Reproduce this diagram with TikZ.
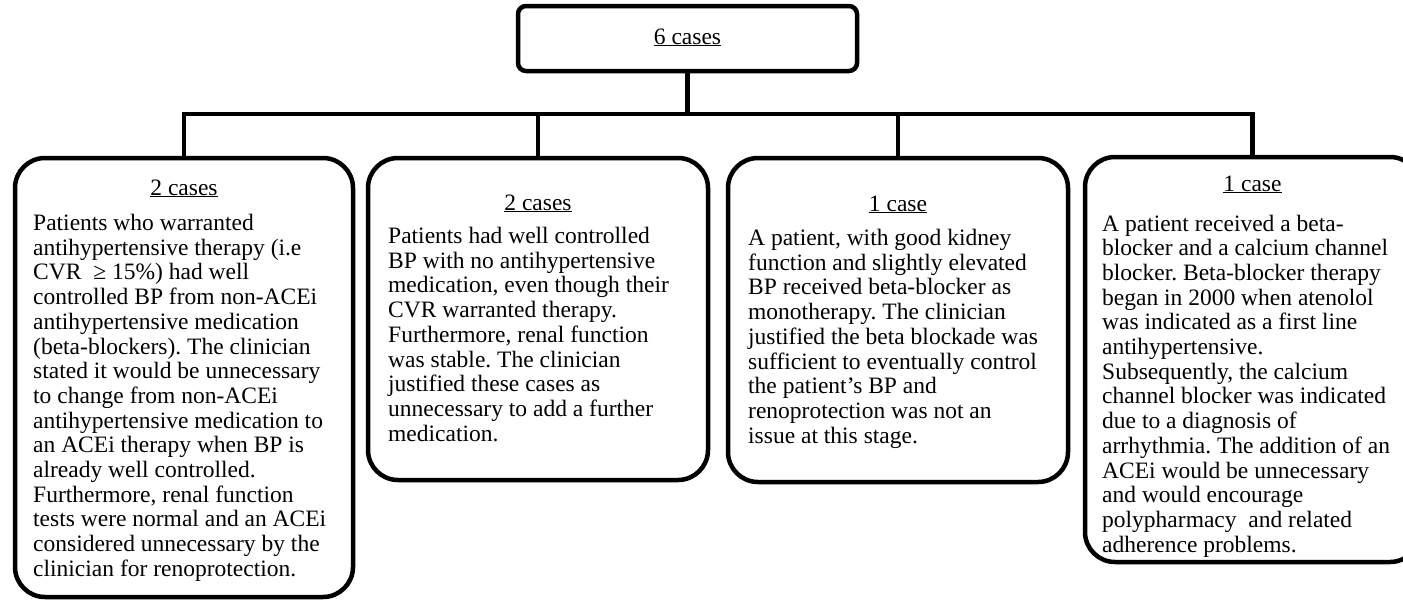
\documentclass[tikz,border=0pt]{standalone}
\usepackage{fontspec}
\setmainfont{Liberation Serif}
\frenchspacing
\begin{document}
\begin{tikzpicture}[x=1pt,y=-1pt,
  frame/.style={draw=black,line width=4.5pt,fill=white,inner sep=0pt},
  topbox/.style={frame,rounded corners=8pt,minimum width=339pt,minimum height=65pt},
  casebox/.style={frame,rounded corners=30pt},
  conn/.style={draw=black,line width=4.5pt,line join=miter},
  head/.style={anchor=base,inner sep=0pt,font=\fontsize{23.5}{24.7}\selectfont},
  body/.style={anchor=base west,inner sep=0pt,font=\fontsize{23.5}{24.7}\selectfont\frenchspacing}
]
\useasboundingbox (0,0) rectangle (1403,600);
\clip (0,0) rectangle (1403,600);

% boxes
\node[topbox] (top) at (687.5,38.5) {};
\node[casebox,minimum width=338pt,minimum height=439pt] (b1) at (184,377.5) {};
\node[casebox,minimum width=340pt,minimum height=322pt] (b2) at (538,319) {};
\node[casebox,minimum width=340pt,minimum height=324pt] (b3) at (898,320) {};
\node[casebox,minimum width=335pt,minimum height=405pt] (b4) at (1252.5,359.5) {};

% connectors
\coordinate (bar) at (0,114);
\draw[conn] (top.south) -- (top.south |- bar);
\draw[conn] (b1.north) -- (b1.north |- bar) -- (b4.north |- bar) -- (b4.north);
\draw[conn] (b2.north |- bar) -- (b2.north);
\draw[conn] (b3.north |- bar) -- (b3.north);

% headings
\node[head] (t0) at (687.5,44) {\underline{6 cases}};
\node[head] (h1) at (184,195) {\underline{2 cases}};
\node[head] (h2) at (538,210) {\underline{2 cases}};
\node[head] (h3) at (898,211) {\underline{1 case}};
\node[head] (h4) at (1252.5,191) {\underline{1 case}};

% bodies
\node[body] (t1) at (33,230.5) {\parbox[t]{330pt}{\raggedright
Patients who warranted\\
antihypertensive therapy (i.e\\
CVR \ ≥ 15\%) had well\\
controlled BP from non-ACEi\\
antihypertensive medication\\
(beta-blockers). The clinician\\
stated it would be unnecessary\\
to change from non-ACEi\\
antihypertensive medication to\\
an ACEi therapy when BP is\\
already well controlled.\\
Furthermore, renal function\\
tests were normal and an ACEi\\
considered unnecessary by the\\
clinician for renoprotection.}};

\node[body] (t2) at (388,243.5) {\parbox[t]{330pt}{\raggedright
Patients had well controlled\\
BP with no antihypertensive\\
medication, even though their\\
CVR warranted therapy.\\
Furthermore, renal function\\
was stable. The clinician\\
justified these cases as\\
unnecessary to add a further\\
medication.}};

\node[body] (t3) at (748,245.5) {\parbox[t]{330pt}{\raggedright
A patient, with good kidney\\
function and slightly elevated\\
BP received beta-blocker as\\
monotherapy. The clinician\\
justified the beta blockade was\\
sufficient to eventually control\\
the patient’s BP and\\
renoprotection was not an\\
issue at this stage.}};

\node[body] (t4) at (1102,231) {\parbox[t]{330pt}{\raggedright
A patient received a beta-\\
blocker and a calcium channel\\
blocker. Beta-blocker therapy\\
began in 2000 when atenolol\\
was indicated as a first line\\
antihypertensive.\\
Subsequently, the calcium\\
channel blocker was indicated\\
due to a diagnosis of\\
arrhythmia. The addition of an\\
ACEi would be unnecessary\\
and would encourage\\
polypharmacy \ and related\\
adherence problems.}};
\end{tikzpicture}
\end{document}
